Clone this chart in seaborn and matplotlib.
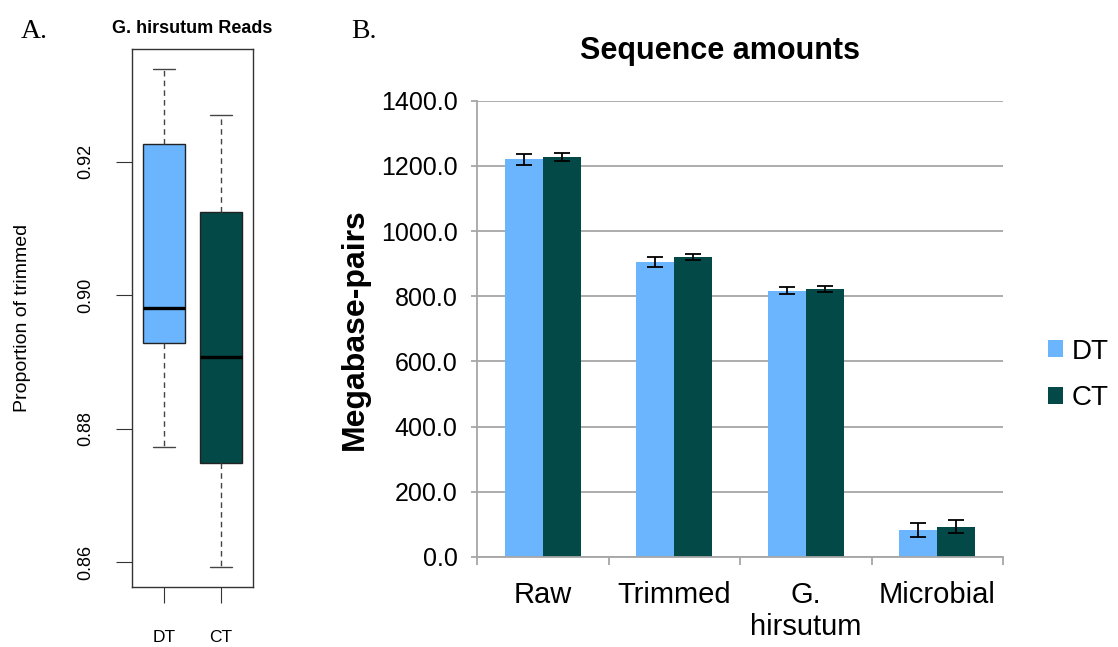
import pandas as pd
import numpy as np
import seaborn as sns
import matplotlib.pyplot as plt
from matplotlib.ticker import FixedLocator, FormatStrFormatter

sns.set_theme(style="ticks")
plt.rcParams['font.family'] = ['Liberation Sans', 'DejaVu Sans']
plt.rcParams['text.color'] = 'black'
plt.rcParams['axes.labelcolor'] = 'black'
plt.rcParams['xtick.labelcolor'] = 'black'
plt.rcParams['ytick.labelcolor'] = 'black'

# panel A: five-number summaries (whisker low, Q1, median, Q3, whisker high)
groups = ["DT", "CT"]
dt_reads = [0.8772, 0.8929, 0.8981, 0.9226, 0.9339]
ct_reads = [0.8593, 0.8748, 0.8907, 0.9125, 0.9270]

# panel B: sequence amounts in Mbp with error bars
categories = ["Raw", "Trimmed", "G.\nhirsutum", "Microbial"]
dt_mbp = [1220, 905, 817, 82]
ct_mbp = [1228, 920, 822, 93]
dt_err = [16, 14, 10, 21]
ct_err = [13, 9, 8, 20]

colors = ["#6bb4fe", "#024947"]

df_a = pd.DataFrame({"group": [groups[0]] * len(dt_reads) + [groups[1]] * len(ct_reads),
                     "value": dt_reads + ct_reads})
df_b = pd.DataFrame({"category": categories * 2,
                     "treatment": [groups[0]] * len(dt_mbp) + [groups[1]] * len(ct_mbp),
                     "mbp": dt_mbp + ct_mbp})

fig = plt.figure(figsize=(11.18, 6.47), dpi=100)
axA = fig.add_axes([132 / 1118, 1 - 587.3 / 647, 121 / 1118, 538 / 647])
axB = fig.add_axes([477 / 1118, 1 - 557 / 647, 526 / 1118, 456.3 / 647])

# ---- A: boxplot, R style
sns.boxplot(data=df_a, x="group", y="value", hue="group", palette=colors, saturation=1,
            width=0.74, whis=(0, 100), linecolor="#222222", linewidth=1, legend=False,
            medianprops=dict(color="black", linewidth=2.4),
            whiskerprops=dict(linestyle=(0, (4, 3)), color="#444444", linewidth=1),
            capprops=dict(color="#444444", linewidth=1),
            capwidths=0.39, ax=axA)
axA.set_xlim(-0.56, 1.56)
axA.set_ylim(0.85625, 0.93686)
axA.set_yticks([0.86, 0.88, 0.90, 0.92])
axA.yaxis.set_major_formatter(FormatStrFormatter("%.2f"))
axA.tick_params(axis="y", length=11.5, width=0.8, pad=16, labelsize=13, labelrotation=90, color="#333333")
for lbl in axA.get_yticklabels():
    lbl.set_va("center")
axA.tick_params(axis="x", length=11.5, width=0.8, pad=19, labelsize=12.5, color="#333333")
for sp in axA.spines.values():
    sp.set_color("#333333")
    sp.set_linewidth(1)
axA.set_xlabel("")
axA.set_ylabel("Proportion of trimmed", fontsize=14)
axA.yaxis.set_label_coords(-0.835, 0.5)
axA.set_title("G. hirsutum Reads", fontsize=13, fontweight="bold", pad=12)

# ---- B: grouped bars with error bars
sns.barplot(data=df_b, x="category", y="mbp", hue="treatment", palette=colors, saturation=1,
            width=0.58, errorbar=None, linewidth=0, ax=axB)
for cont, errs in zip(axB.containers, [dt_err, ct_err]):
    xs = [p.get_x() + p.get_width() / 2 for p in cont]
    ys = [p.get_height() for p in cont]
    axB.errorbar(xs, ys, yerr=errs, fmt="none", ecolor="black", elinewidth=1.3,
                 capsize=5.5, capthick=1.3, zorder=5)

axB.set_xlim(-0.5, 3.5)
axB.set_ylim(0, 1400)
axB.set_yticks(range(0, 1401, 200))
axB.yaxis.set_major_formatter(FormatStrFormatter("%.1f"))
axB.yaxis.grid(True, color="#a6a6a6", linewidth=1.3)
axB.set_axisbelow(True)
sns.despine(ax=axB)
for s in ["left", "bottom"]:
    axB.spines[s].set_color("#a6a6a6")
    axB.spines[s].set_linewidth(1.3)
axB.tick_params(axis="y", length=4, width=1.3, color="#a6a6a6", labelsize=18, pad=10)
axB.tick_params(axis="x", which="major", length=0, pad=17, labelsize=21)
axB.xaxis.set_minor_locator(FixedLocator([-0.5, 0.5, 1.5, 2.5, 3.5]))
axB.tick_params(axis="x", which="minor", length=6, width=1.3, color="#a6a6a6")
axB.set_xlabel("")
axB.set_ylabel("Megabase-pairs", fontsize=23, fontweight="bold", labelpad=8)
axB.set_title("Sequence amounts", fontsize=22, fontweight="bold", x=0.462, pad=30)

handles, labels = axB.get_legend_handles_labels()
axB.get_legend().remove()
fig.legend(handles, labels, loc="center left", bbox_to_anchor=(1048 / 1118, 1 - 375 / 647),
           frameon=False, fontsize=20, handlelength=0.55, handleheight=0.55,
           handletextpad=0.3, labelspacing=0.75, borderaxespad=0, borderpad=0)

serif = ["Liberation Serif", "DejaVu Serif"]
fig.text(21 / 1118, 1 - 31 / 647, "A.", family=serif, fontsize=20, va="center", ha="left")
fig.text(351 / 1118, 1 - 31 / 647, "B.", family=serif, fontsize=20, va="center", ha="left")

fig.savefig("out.png", dpi=100)
